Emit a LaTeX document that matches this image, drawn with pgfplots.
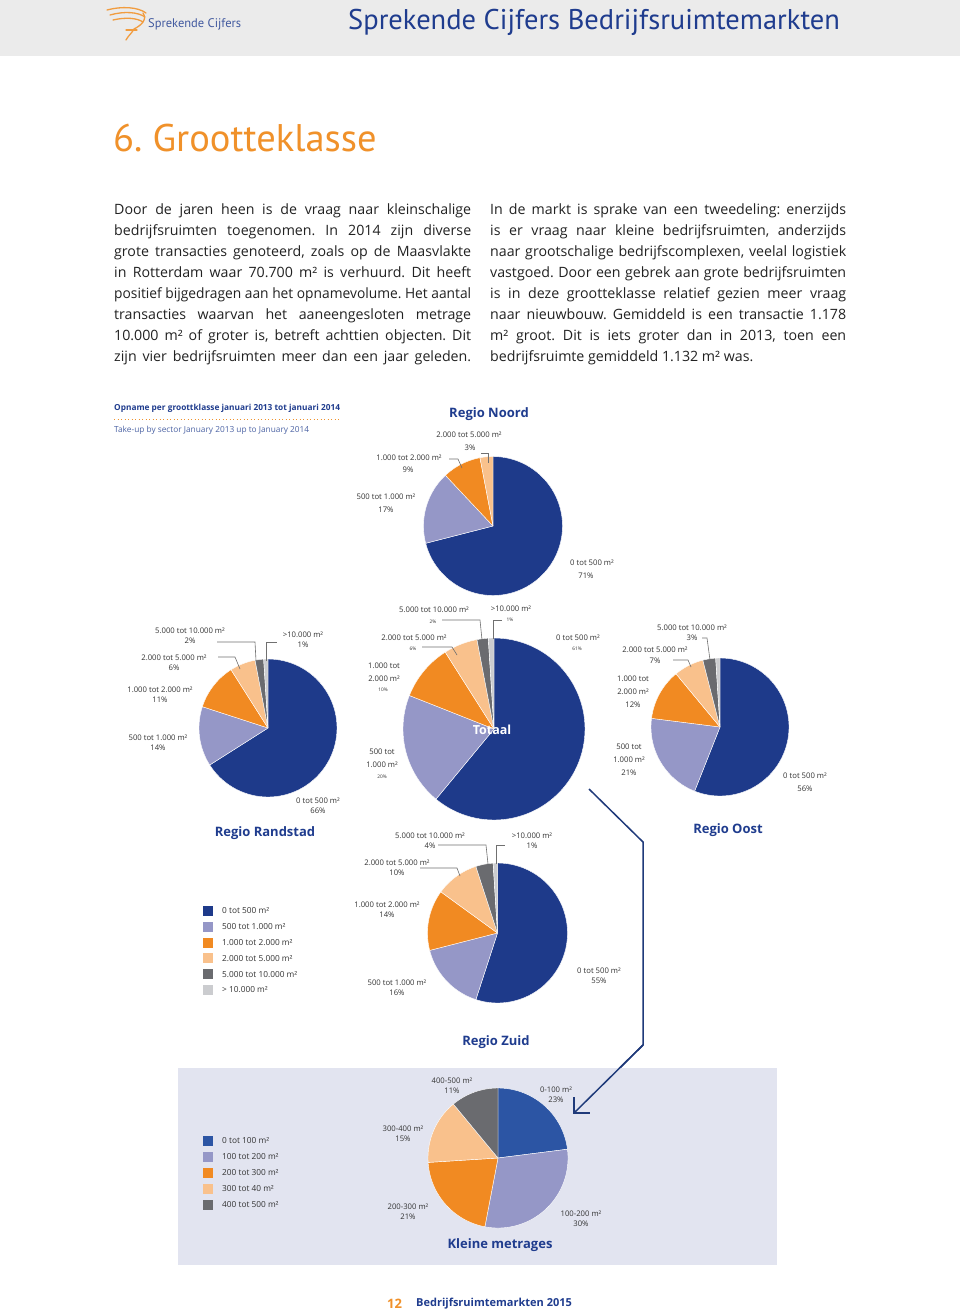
\documentclass[border=0pt]{standalone}
\usepackage{pgfplots}
\pgfplotsset{compat=1.18}
\usepackage{fontspec}
\setmainfont{Open Sans}
\newfontfamily\ptsans{PT Sans}
\usepackage{graphicx}
\frenchspacing
\definecolor{pc1}{HTML}{1E3A8A}
\definecolor{pc2}{HTML}{9597C7}
\definecolor{pc3}{HTML}{F18A22}
\definecolor{pc4}{HTML}{F9C18C}
\definecolor{pc5}{HTML}{6A6B6F}
\definecolor{pc6}{HTML}{CBCCCF}
\definecolor{km1}{HTML}{2C55A4}
\definecolor{km2}{HTML}{9597C7}
\definecolor{km3}{HTML}{F18A22}
\definecolor{km4}{HTML}{F9C18C}
\definecolor{km5}{HTML}{6A6B6F}
\definecolor{hdr}{HTML}{EBEBEB}
\definecolor{navy}{HTML}{1F3C8E}
\definecolor{ttl}{HTML}{F0912A}
\definecolor{body}{HTML}{222222}
\definecolor{lgray}{HTML}{333333}
\definecolor{lead}{HTML}{707070}
\definecolor{boxbg}{HTML}{E2E4F0}
\definecolor{arrowc}{HTML}{1F3A7A}

% pie: values (percent, clockwise from 12 o'clock), colour prefix
\newcommand\drawpie[2]{%
  \def\cumA{0}\def\idx{0}%
  \pgfplotsforeachungrouped \v in {#1}{%
    \pgfmathsetmacro\cumB{\cumA+\v}%
    \pgfmathsetmacro\lo{90-3.6*\cumB}%
    \pgfmathsetmacro\hi{90-3.6*\cumA}%
    \pgfmathtruncatemacro\ii{\idx+1}%
    \edef\tmp{\noexpand\addplot[draw=white, line width=0.4pt, line join=round, fill=#2\ii, domain=\lo:\hi, samples=72, variable=\noexpand\t] ({cos(\noexpand\t)},{sin(\noexpand\t)}) -- (axis cs:0,0) -- cycle;}%
    \tmp
    \edef\cumA{\cumB}\edef\idx{\ii}%
  }%
}
\pgfplotsset{pieax/.style={anchor=center, scale only axis, width=#1, height=#1,
  xmin=-1, xmax=1, ymin=-1, ymax=1, hide axis, clip=false}}

\newsavebox\lb
\newcommand\jl[2]{\sbox\lb{#2}\ifdim\wd\lb>#1\relax\resizebox{#1}{\ht\lb}{\usebox\lb}\else\makebox[#1][s]{#2}\fi}

\begin{document}
\begin{tikzpicture}[x=1pt,y=1pt,
  lbl/.style={font=\fontsize{7.7}{8}\selectfont, text=lgray, inner sep=0pt},
  tiny/.style={font=\fontsize{4.8}{5}\selectfont, text=lgray, inner sep=0pt},
  rg/.style={font=\fontsize{13}{14}\bfseries\selectfont, text=navy, inner sep=0pt},
  ld/.style={draw=lead, line width=0.6pt},
  bt/.style={font=\fontsize{14.2}{16}\selectfont, text=body, inner sep=0pt, anchor=base west},
  lg/.style={font=\fontsize{8.3}{9}\selectfont, text=lgray, inner sep=0pt, anchor=west}]
\useasboundingbox (0,0) rectangle (960,-1314);
\fill[white] (0,0) rectangle (960,-1314);
% header
\fill[hdr] (0,0) rectangle (960,-56);
\begin{scope}[line width=1.3pt, ttl!90!white, line cap=round]
\draw (107,-10) .. controls (122,-6) and (138,-7) .. (146,-13);
\draw (110,-15) .. controls (124,-11) and (138,-12) .. (145,-17);
\draw (113,-20) .. controls (126,-17) and (137,-18) .. (143,-22);
\draw (143,-13) .. controls (148,-20) and (140,-26) .. (134,-29) .. controls (132,-33) and (128,-36) .. (126,-40);
\draw (126,-30) -- (137,-30);
\end{scope}
\node[font=\ptsans\fontsize{12.5}{13}\selectfont, text=navy!85!white, anchor=west, inner sep=0] at (148,-24) {Sprekende Cijfers};
\node[font=\ptsans\fontsize{28.5}{30}\selectfont, text=navy, anchor=west, inner sep=0] at (348,-22) {Sprekende Cijfers Bedrijfsruimtemarkten};
% title
\node[font=\ptsans\fontsize{38.5}{40}\selectfont, text=ttl, anchor=base west, inner sep=0] at (113,-151) {6. Grootteklasse};
% body text
\node[bt] at (114,-214) {\jl{357pt}{Door de jaren heen is de vraag naar kleinschalige}};
\node[bt] at (114,-235) {\jl{357pt}{bedrijfsruimten toegenomen. In 2014 zijn diverse}};
\node[bt] at (114,-256) {\jl{357pt}{grote transacties genoteerd, zoals op de Maasvlakte}};
\node[bt] at (114,-277) {\jl{357pt}{in Rotterdam waar 70.700 m² is verhuurd. Dit heeft}};
\node[bt] at (114,-298) {\jl{357pt}{positief bijgedragen aan het opnamevolume. Het aantal}};
\node[bt] at (114,-319) {\jl{357pt}{transacties waarvan het aaneengesloten metrage}};
\node[bt] at (114,-340) {\jl{357pt}{10.000 m² of groter is, betreft achttien objecten. Dit}};
\node[bt] at (114,-361) {\jl{357pt}{zijn vier bedrijfsruimten meer dan een jaar geleden.}};
\node[bt] at (490,-214) {\jl{356pt}{In de markt is sprake van een tweedeling: enerzijds}};
\node[bt] at (490,-235) {\jl{356pt}{is er vraag naar kleine bedrijfsruimten, anderzijds}};
\node[bt] at (490,-256) {\jl{356pt}{naar grootschalige bedrijfscomplexen, veelal logistiek}};
\node[bt] at (490,-277) {\jl{356pt}{vastgoed. Door een gebrek aan grote bedrijfsruimten}};
\node[bt] at (490,-298) {\jl{356pt}{is in deze grootteklasse relatief gezien meer vraag}};
\node[bt] at (490,-319) {\jl{356pt}{naar nieuwbouw. Gemiddeld is een transactie 1.178}};
\node[bt] at (490,-340) {\jl{356pt}{m² groot. Dit is iets groter dan in 2013, toen een}};
\node[bt] at (490,-361) {bedrijfsruimte gemiddeld 1.132 m² was.};
% chart caption
\node[font=\fontsize{8.3}{9}\bfseries\selectfont, text=navy, anchor=west, inner sep=0] at (114,-408) {Opname per groottklasse januari 2013 tot januari 2014};
\draw[ttl, line width=0.9pt, dash pattern=on 0.9pt off 2.6pt] (114,-419) -- (340,-419);
\node[font=\fontsize{8.3}{9}\selectfont, text=navy!80!white, anchor=west, inner sep=0] at (114,-430) {Take-up by sector January 2013 up to January 2014};

% ---------- Regio Noord ----------
\begin{axis}[pieax=139pt, at={(493pt,-526pt)}]
\drawpie{71,17,9,3}{pc}
\end{axis}
\node[rg] at (489,-414) {Regio Noord};
\node[lbl] at (469,-435) {2.000 tot 5.000 m²};
\node[lbl] at (470,-448) {3\%};
\draw[ld] (481,-453) -- (488,-453) -- (488,-463);
\node[lbl] at (409,-458) {1.000 tot 2.000 m²};
\node[lbl] at (408,-470) {9\%};
\draw[ld] (449,-459) -- (458,-459) -- (462,-468);
\node[lbl] at (386,-497) {500 tot 1.000 m²};
\node[lbl] at (386,-510) {17\%};
\node[lbl] at (592,-563) {0 tot 500 m²};
\node[lbl] at (586,-576) {71\%};

% ---------- Regio Randstad ----------
\begin{axis}[pieax=138pt, at={(268pt,-728pt)}]
\drawpie{66,14,11,6,2,1}{pc}
\end{axis}
\node[rg] at (265,-833) {Regio Randstad};
\node[lbl] at (190,-631) {5.000 tot 10.000 m²};
\node[lbl] at (190,-641) {2\%};
\draw[ld] (217,-642) -- (255,-642) -- (256,-661);
\node[lbl] at (303,-635) {>10.000 m²};
\node[lbl] at (303,-645) {1\%};
\draw[ld] (266.5,-661) -- (266.5,-642) -- (277,-642);
\node[lbl] at (174,-658) {2.000 tot 5.000 m²};
\node[lbl] at (174,-668) {6\%};
\draw[ld] (218,-657) -- (235,-657) -- (240,-669);
\node[lbl] at (160,-690) {1.000 tot 2.000 m²};
\node[lbl] at (160,-700) {11\%};
\node[lbl] at (158,-738) {500 tot 1.000 m²};
\node[lbl] at (158,-748) {14\%};
\node[lbl] at (318,-801) {0 tot 500 m²};
\node[lbl] at (318,-811) {66\%};

% ---------- Totaal ----------
\begin{axis}[pieax=182pt, at={(494pt,-729pt)}]
\drawpie{61,20,10,6,2,1}{pc}
\end{axis}
\node[font=\fontsize{12.5}{13}\bfseries\selectfont, text=white, inner sep=0] at (492,-730) {Totaal};
\node[lbl] at (434,-610) {5.000 tot 10.000 m²};
\node[tiny] at (433,-622) {2\%};
\draw[ld] (442,-620) -- (480,-620) -- (482,-640);
\node[lbl] at (511,-609) {>10.000 m²};
\node[tiny] at (510,-620) {1\%};
\draw[ld] (493,-639) -- (493,-620) -- (502,-620);
\node[lbl] at (414,-638) {2.000 tot 5.000 m²};
\node[tiny] at (413,-649) {6\%};
\draw[ld] (422,-647) -- (452,-647) -- (457,-655);
\node[lbl] at (384,-666) {1.000 tot};
\node[lbl] at (384,-679) {2.000 m²};
\node[tiny] at (383,-690) {10\%};
\node[lbl] at (382,-752) {500 tot};
\node[lbl] at (382,-765) {1.000 m²};
\node[tiny] at (382,-777) {20\%};
\node[lbl] at (578,-638) {0 tot 500 m²};
\node[tiny] at (577,-649) {61\%};

% ---------- Regio Oost ----------
\begin{axis}[pieax=138pt, at={(720pt,-727pt)}]
\drawpie{56,21,12,7,3,1}{pc}
\end{axis}
\node[rg] at (728,-830) {Regio Oost};
\node[lbl] at (692,-628) {5.000 tot 10.000 m²};
\node[lbl] at (692,-638) {3\%};
\draw[ld] (702,-638) -- (707,-638) -- (710,-660);
\node[lbl] at (655,-650) {2.000 tot 5.000 m²};
\node[lbl] at (655,-661) {7\%};
\draw[ld] (673,-660) -- (688,-660) -- (691,-667);
\node[lbl] at (633,-679) {1.000 tot};
\node[lbl] at (633,-692) {2.000 m²};
\node[lbl] at (633,-705) {12\%};
\node[lbl] at (629,-747) {500 tot};
\node[lbl] at (629,-760) {1.000 m²};
\node[lbl] at (629,-773) {21\%};
\node[lbl] at (805,-776) {0 tot 500 m²};
\node[lbl] at (805,-789) {56\%};

% ---------- Regio Zuid ----------
\begin{axis}[pieax=140pt, at={(497.5pt,-933pt)}]
\drawpie{55,16,14,10,4,1}{pc}
\end{axis}
\node[rg] at (496,-1042) {Regio Zuid};
\node[lbl] at (430,-836) {5.000 tot 10.000 m²};
\node[lbl] at (430,-846) {4\%};
\draw[ld] (438,-845) -- (486,-845) -- (488,-864);
\node[lbl] at (532,-836) {>10.000 m²};
\node[lbl] at (532,-846) {1\%};
\draw[ld] (496.7,-864) -- (496.7,-845) -- (505,-845);
\node[lbl] at (397,-863) {2.000 tot 5.000 m²};
\node[lbl] at (397,-873) {10\%};
\draw[ld] (420,-868) -- (457,-868) -- (460,-876);
\node[lbl] at (387,-905) {1.000 tot 2.000 m²};
\node[lbl] at (387,-915) {14\%};
\node[lbl] at (397,-983) {500 tot 1.000 m²};
\node[lbl] at (397,-993) {16\%};
\node[lbl] at (599,-971) {0 tot 500 m²};
\node[lbl] at (599,-981) {55\%};

% legend 1
\foreach \c/\t [count=\i from 0] in {pc1/0 tot 500 m², pc2/500 tot 1.000 m², pc3/1.000 tot 2.000 m², pc4/2.000 tot 5.000 m², pc5/5.000 tot 10.000 m², pc6/> 10.000 m²}{
  \fill[\c] (203,-906-15.8*\i) rectangle (213,-916-15.8*\i);
  \node[lg] at (222,-911-15.8*\i) {\t};
}

% arrow
\draw[arrowc, line width=1.5pt, line join=miter] (589,-789) -- (643,-842) -- (643,-1045) -- (574,-1113);

% ---------- Kleine metrages ----------
\fill[boxbg] (178,-1068) rectangle (777,-1265);
\draw[arrowc, line width=1.5pt] (643,-1045) -- (574,-1113);
\draw[arrowc, line width=1.5pt, line join=miter] (574,-1097) -- (574,-1113) -- (590,-1113);
\begin{axis}[pieax=140pt, at={(498pt,-1158pt)}]
\drawpie{23,30,21,15,11}{km}
\end{axis}
\node[rg] at (500,-1245) {Kleine metrages};
\node[lbl] at (452,-1081) {400-500 m²};
\node[lbl] at (452,-1091) {11\%};
\node[lbl] at (556,-1090) {0-100 m²};
\node[lbl] at (556,-1100) {23\%};
\node[lbl] at (403,-1129) {300-400 m²};
\node[lbl] at (403,-1139) {15\%};
\node[lbl] at (408,-1207) {200-300 m²};
\node[lbl] at (408,-1217) {21\%};
\node[lbl] at (581,-1214) {100-200 m²};
\node[lbl] at (581,-1224) {30\%};
\foreach \c/\t [count=\i from 0] in {km1/0 tot 100 m², km2/100 tot 200 m², km3/200 tot 300 m², km4/300 tot 40 m², km5/400 tot 500 m²}{
  \fill[\c] (203,-1136-16*\i) rectangle (213,-1146-16*\i);
  \node[lg] at (222,-1141-16*\i) {\t};
}

% footer
\node[font=\fontsize{13}{14}\bfseries\selectfont, text=ttl, anchor=west, inner sep=0] at (387,-1304) {12};
\node[font=\fontsize{11}{12}\bfseries\selectfont, text=navy, anchor=west, inner sep=0] at (416,-1304) {Bedrijfsruimtemarkten 2015};
\end{tikzpicture}
\end{document}
